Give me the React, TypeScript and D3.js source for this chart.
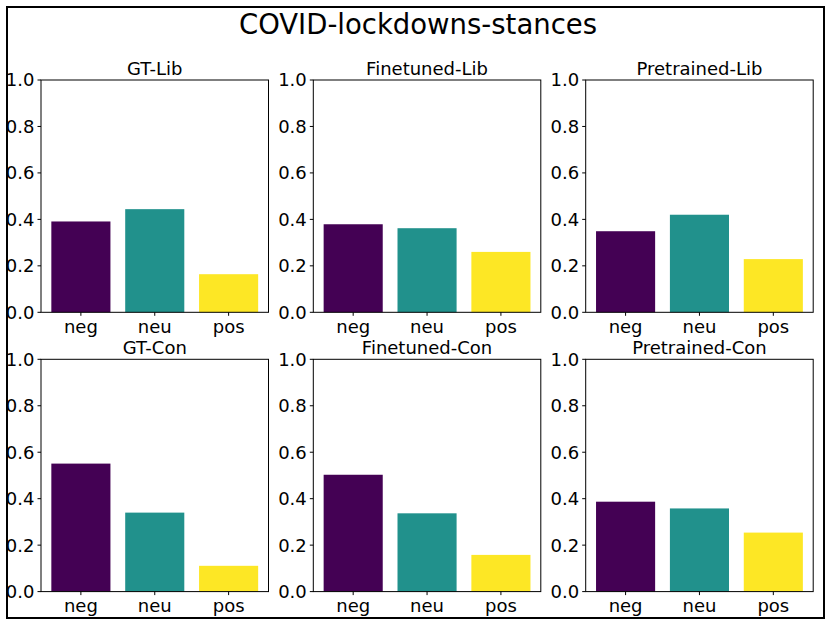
import React from "react";
import * as d3 from "d3";

const title = "COVID-lockdowns-stances";
const categories = ["neg", "neu", "pos"];
const panelTitles = ["GT-Lib", "Finetuned-Lib", "Pretrained-Lib", "GT-Con", "Finetuned-Con", "Pretrained-Con"];
const gtLib = [0.391, 0.444, 0.164];
const finetunedLib = [0.379, 0.362, 0.26];
const pretrainedLib = [0.349, 0.42, 0.229];
const gtCon = [0.551, 0.34, 0.111];
const finetunedCon = [0.503, 0.337, 0.158];
const pretrainedCon = [0.387, 0.358, 0.254];
const yTicks = [0, 0.2, 0.4, 0.6, 0.8, 1.0];
const colors = ["#440154", "#21918c", "#fde725"];

const panelValues = [gtLib, finetunedLib, pretrainedLib, gtCon, finetunedCon, pretrainedCon];

const W = 830;
const H = 625;
const colLefts = [41, 313.3, 585.7];
const rowTops = [80, 359.3];
const pw = 227.5;
const ph = 232.3;
const font = "'DejaVu Sans', sans-serif";

function Panel({ x0, y0, name, values }: { x0: number; y0: number; name: string; values: number[] }) {
  const x = d3.scaleBand<string>().domain(categories).range([0, pw]).paddingInner(0.2).paddingOuter(0.14);
  const y = d3.scaleLinear().domain([0, 1]).range([ph, 0]);
  return (
    <g transform={`translate(${x0},${y0})`}>
      {values.map((v, i) => (
        <rect
          key={i}
          x={x(categories[i])!}
          y={y(v)}
          width={x.bandwidth()}
          height={ph - y(v)}
          fill={colors[i]}
        />
      ))}
      <rect x={0} y={0} width={pw} height={ph} fill="none" stroke="#000" strokeWidth={1} />
      {yTicks.map((t) => (
        <g key={t} transform={`translate(0,${y(t)})`}>
          <line x1={-3.5} x2={0} stroke="#000" strokeWidth={1} />
          <text x={-6.5} dy="0.36em" textAnchor="end" fontSize={18} fontFamily={font} fill="#000">
            {d3.format(".1f")(t)}
          </text>
        </g>
      ))}
      {categories.map((c) => (
        <g key={c} transform={`translate(${x(c)! + x.bandwidth() / 2},${ph})`}>
          <line y1={0} y2={3.5} stroke="#000" strokeWidth={1} />
          <text y={20.5} textAnchor="middle" fontSize={18} fontFamily={font} fill="#000">
            {c}
          </text>
        </g>
      ))}
      <text x={pw / 2} y={-5} textAnchor="middle" fontSize={18} fontFamily={font} fill="#000">
        {name}
      </text>
    </g>
  );
}

export default function App() {
  return (
    <svg
      width={W}
      height={H}
      style={{ position: "fixed", left: 0, top: 0, background: "#fff" }}
    >
      <rect x={0} y={0} width={W} height={H} fill="#fff" />
      <rect x={7} y={7} width={817} height={611} fill="none" stroke="#000" strokeWidth={2} />
      <text x={418} y={34} textAnchor="middle" fontSize={27.5} fontFamily={font} fill="#000">
        {title}
      </text>
      {panelValues.map((vals, i) => (
        <Panel
          key={i}
          x0={colLefts[i % 3]}
          y0={rowTops[Math.floor(i / 3)]}
          name={panelTitles[i]}
          values={vals}
        />
      ))}
    </svg>
  );
}
